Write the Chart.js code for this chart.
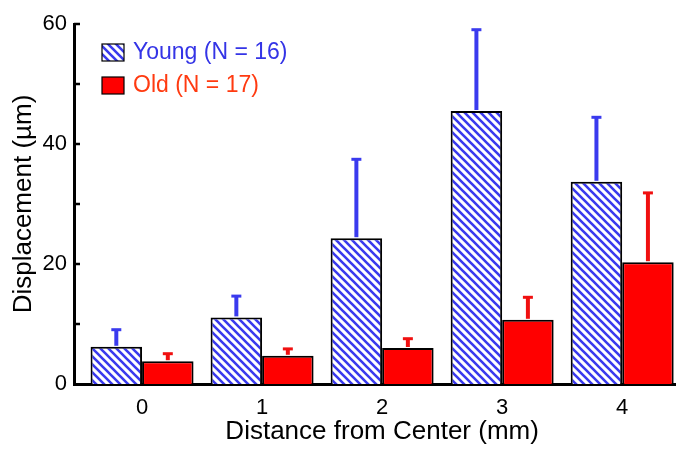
<!DOCTYPE html>
<html>
<head>
<meta charset="utf-8">
<script src="https://cdn.jsdelivr.net/npm/chart.js@4/dist/chart.umd.min.js"></script>
<style>
    html, body { margin: 0; padding: 0; background: #fff; }
    #wrap { width: 694px; height: 459px; }
</style>
</head>
<body>
<div id="wrap"><canvas id="chart" width="694" height="459"></canvas></div>
<script>
// --- data ---
const distances = [0, 1, 2, 3, 4]
const youngMean = [6.2, 11.1, 24.3, 45.5, 33.7]
const youngErr = [3.1, 3.8, 13.4, 13.8, 11.0]
const oldMean = [3.8, 4.7, 6.0, 10.7, 20.3]
const oldErr = [1.5, 1.4, 1.8, 4.0, 11.8]
const yTicks = [0, 20, 40, 60]
const yMinorTicks = [10, 30, 50]
const legendLabels = ['Young (N = 16)', 'Old (N = 17)']

const FONT = "'Liberation Sans', Arial, sans-serif"
const BLUE = '#3a3aee'
const RED = '#ff0000'
const LEGEND_COLORS = ['#3434e6', '#ff3a10']

function makeHatch() {
    const size = 8
    const c = document.createElement('canvas')
    c.width = size
    c.height = size
    const g = c.getContext('2d')
    g.fillStyle = '#fff'
    g.fillRect(0, 0, size, size)
    g.strokeStyle = BLUE
    g.lineWidth = 2.6
    g.beginPath()
    g.moveTo(-2, -2); g.lineTo(size + 2, size + 2)
    g.moveTo(-2, size - 2); g.lineTo(2, size + 2)
    g.moveTo(size - 2, -2); g.lineTo(size + 2, 2)
    g.stroke()
    return g.createPattern(c, 'repeat')
}

const hatch = makeHatch()

// ==========================================================================
// PLUGINS
// ==========================================================================

const errorBars = {
    id: 'errorBars',
    afterDatasetsDraw(chart) {
        const ctx = chart.ctx
        const y = chart.scales.y
        const errs = [youngErr, oldErr]
        const means = [youngMean, oldMean]
        const cols = [BLUE, '#f01010']
        ctx.save()
        chart.data.datasets.forEach((ds, di) => {
            chart.getDatasetMeta(di).data.forEach((bar, i) => {
                const top = y.getPixelForValue(means[di][i] + errs[di][i])
                ctx.strokeStyle = cols[di]
                ctx.lineWidth = 4
                ctx.beginPath()
                ctx.moveTo(bar.x, bar.y - 1)
                ctx.lineTo(bar.x, top + 1)
                ctx.stroke()
                ctx.lineWidth = 3
                ctx.beginPath()
                ctx.moveTo(bar.x - 5, top + 1.5)
                ctx.lineTo(bar.x + 5, top + 1.5)
                ctx.stroke()
            })
        })
        ctx.restore()
    }
}

const axisExtras = {
    id: 'axisExtras',
    afterDraw(chart) {
        const ctx = chart.ctx
        const { x, y } = chart.scales
        const left = chart.chartArea.left
        ctx.save()
        // inward tick marks on the y axis
        ctx.strokeStyle = '#000'
        ctx.lineWidth = 2.5
        yTicks.concat(yMinorTicks).forEach(v => {
            const py = y.getPixelForValue(v)
            if (v === 0) return
            ctx.beginPath()
            ctx.moveTo(left, py)
            ctx.lineTo(left + 6, py)
            ctx.stroke()
        })
        // x title, centred under the middle category
        ctx.fillStyle = '#000'
        ctx.font = `26px ${FONT}`
        ctx.textAlign = 'center'
        ctx.textBaseline = 'middle'
        ctx.fillText('Distance from Center (mm)', x.getPixelForValue(2), 432)
        // legend
        ctx.font = `23px ${FONT}`
        ctx.textAlign = 'left'
        const fills = [hatch, RED]
        legendLabels.forEach((label, i) => {
            const ly = 44 + i * 33
            ctx.fillStyle = fills[i]
            ctx.fillRect(102, ly, 22, 17)
            ctx.strokeStyle = '#000'
            ctx.lineWidth = 1.2
            ctx.strokeRect(102, ly, 22, 17)
            ctx.fillStyle = LEGEND_COLORS[i]
            ctx.fillText(label, 133, ly + 9)
        })
        ctx.restore()
    }
}

// ==========================================================================
// CHART
// ==========================================================================

new Chart(document.getElementById('chart'), {
    type: 'bar',
    data: {
        datasets: [
            {
                label: legendLabels[0],
                data: distances.map((d, i) => ({ x: d, y: youngMean[i] })),
                backgroundColor: hatch, borderColor: '#000', borderWidth: 2,
                categoryPercentage: 0.858, barPercentage: 1,
            },
            {
                label: legendLabels[1],
                data: distances.map((d, i) => ({ x: d, y: oldMean[i] })),
                backgroundColor: RED, borderColor: '#000', borderWidth: 2,
                categoryPercentage: 0.858, barPercentage: 1,
            }
        ]
    },
    options: {
        responsive: false,
        animation: false,
        layout: { padding: { top: 24, right: 19, left: 0, bottom: 0 } },
        plugins: { legend: { display: false }, tooltip: { enabled: false } },
        scales: {
            x: {
                type: 'linear',
                offset: false,
                min: -0.567, max: 4.44,
                afterBuildTicks: s => { s.ticks = distances.map(v => ({ value: v })) },
                afterFit: s => { s.height = 75 },
                grid: { display: false, offset: false, drawTicks: false, tickLength: 0 },
                border: { display: true, color: '#000', width: 3 },
                ticks: { color: '#000', padding: 11, font: { family: FONT, size: 22 } },
            },
            y: {
                min: 0, max: 60,
                afterBuildTicks: s => { s.ticks = yTicks.map(v => ({ value: v })) },
                afterFit: s => { s.width = 74 },
                grid: { display: false, drawTicks: false, tickLength: 0 },
                border: { display: true, color: '#000', width: 3 },
                ticks: { color: '#000', padding: 7, font: { family: FONT, size: 22 } },
                title: {
                    display: true, text: 'Displacement (µm)', color: '#000',
                    font: { family: FONT, size: 26 }, padding: { top: 8, bottom: 0 }
                },
            }
        }
    },
    plugins: [errorBars, axisExtras]
})
</script>
</body>
</html>
